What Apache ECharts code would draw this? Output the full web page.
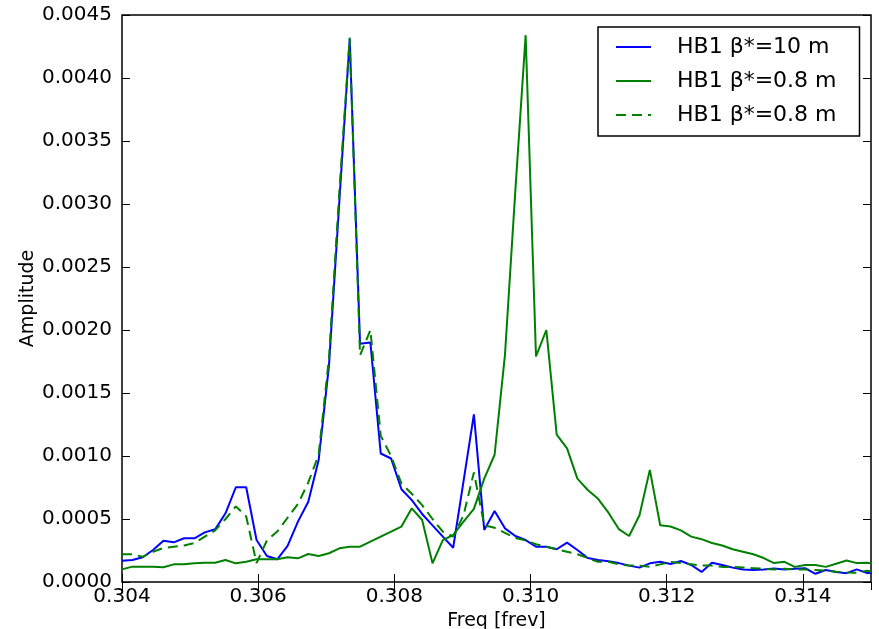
<!DOCTYPE html>
<html>
<head>
<meta charset="utf-8">
<script src="https://cdn.jsdelivr.net/npm/echarts@6/dist/echarts.min.js"></script>
<style>
html,body{margin:0;padding:0;background:#fff;}
#chart{width:879px;height:629px;}
</style>
</head>
<body>
<div id="chart"></div>
<script>
// Frequency grid [frev]
var freq = [0.304000,0.304152,0.304304,0.304456,0.304608,0.304760,0.304912,0.305064,0.305216,0.305368,
  0.305520,0.305672,0.305824,0.305976,0.306128,0.306280,0.306432,0.306584,0.306736,0.306888,
  0.307040,0.307192,0.307344,0.307496,0.307648,0.307800,0.307952,0.308104,0.308256,0.308408,
  0.308560,0.308712,0.308864,0.309016,0.309168,0.309320,0.309472,0.309624,0.309776,0.309928,
  0.310080,0.310232,0.310384,0.310536,0.310688,0.310840,0.310992,0.311144,0.311296,0.311448,
  0.311600,0.311752,0.311904,0.312056,0.312208,0.312360,0.312512,0.312664,0.312816,0.312968,
  0.313120,0.313272,0.313424,0.313576,0.313728,0.313880,0.314032,0.314184,0.314336,0.314488,
  0.314640,0.314792,0.314944,0.315096];

// HB1 beta*=10 m (blue)
var ampBeta10 = [0.000169,0.000175,0.000196,0.000254,0.000328,0.000315,0.000347,0.000347,0.000394,0.000418,
  0.000545,0.000752,0.000752,0.000333,0.000206,0.000180,0.000286,0.000479,0.000637,0.000968,
  0.00172,0.00302,0.00431,0.00189,0.00190,0.00102,0.00098,0.000736,0.000650,0.000540,
  0.000450,0.000360,0.000272,0.000800,0.00133,0.000413,0.000563,0.000426,0.000365,0.000333,
  0.000280,0.000280,0.000260,0.000312,0.000254,0.000190,0.000175,0.000165,0.000150,0.000130,
  0.000114,0.000148,0.000161,0.000143,0.000167,0.000135,0.000080,0.000153,0.000135,0.000114,
  0.000100,0.000095,0.000100,0.000108,0.000100,0.000105,0.000110,0.000065,0.000095,0.000080,
  0.000070,0.000100,0.000070,0.000080];

// HB1 beta*=0.8 m (green solid)
var ampBeta08 = [0.000100,0.000122,0.000122,0.000122,0.000117,0.000140,0.000140,0.000148,0.000153,0.000153,
  0.000175,0.000148,0.000161,0.000180,0.000180,0.000180,0.000196,0.000188,0.000222,0.000206,
  0.000228,0.000267,0.000280,0.000280,0.000320,0.000360,0.000400,0.000440,0.000585,0.000492,
  0.000148,0.000333,0.000373,0.000479,0.000580,0.000820,0.00101,0.00180,0.00310,0.00434,
  0.00179,0.00200,0.00117,0.00106,0.00082,0.00073,0.00066,0.00055,0.00042,0.000365,
  0.00053,0.00089,0.00045,0.00044,0.00041,0.00036,0.00034,0.00031,0.00029,0.00026,
  0.00024,0.00022,0.00019,0.00015,0.00016,0.00012,0.000135,0.000135,0.00012,0.000145,
  0.00017,0.00015,0.000153,0.00014];

// HB1 beta*=0.8 m (green dashed)
var ampBeta08Dashed = [0.00022,0.00022,0.00020,0.00024,0.00027,0.00028,0.00029,0.00031,0.00036,0.00041,
  0.00050,0.00060,0.00052,0.00015,0.00033,0.00040,0.00051,0.00062,0.00079,0.00101,
  0.00178,0.00310,0.00432,0.00180,0.00200,0.00116,0.00100,0.00078,0.00070,0.00061,
  0.00050,0.00040,0.00036,0.00053,0.00087,0.00045,0.00043,0.00039,0.00035,0.00033,
  0.00030,0.00028,0.00026,0.00024,0.00022,0.00019,0.00016,0.00016,0.00014,0.00013,
  0.00013,0.00012,0.00014,0.00016,0.00015,0.00014,0.00013,0.00013,0.00012,0.00012,
  0.000115,0.00011,0.000105,0.00010,0.000105,0.00010,0.00010,0.000095,0.00009,0.000082,
  0.000075,0.000074,0.00009,0.00007];

var seriesNames = ['HB1 \u03b2*=10 m', 'HB1 \u03b2*=0.8 m', 'HB1 \u03b2*=0.8 m '];

function pairs(ys){ return freq.map(function(f,i){ return [f, ys[i]]; }); }

var FONT = 'DejaVu Sans';
var chart = echarts.init(document.getElementById('chart'), null, {renderer:'canvas'});

var xCommon = {type:'value', min:0.304, max:0.315, interval:0.002};
var yCommon = {type:'value', min:0, max:0.0045, interval:0.0005};

chart.setOption({
  animation:false,
  backgroundColor:'#fff',
  grid:{left:122, right:8, top:15, bottom:47, containLabel:false, outerBoundsMode:'none',
    show:true, borderColor:'#000', borderWidth:1.5, backgroundColor:'transparent'},
  legend:{
    orient:'vertical', left:598, top:27,
    data:seriesNames,
    itemWidth:35, itemHeight:14, itemGap:12,
    padding:[9,16,10,17],
    borderColor:'#000', borderWidth:1.5, backgroundColor:'#fff',
    itemStyle:{color:'rgba(0,0,0,0)', borderWidth:0, opacity:0},
    textStyle:{fontFamily:FONT, fontSize:22, color:'#000', padding:[0,0,0,21]},
    selectedMode:false
  },
  xAxis:[
    Object.assign({}, xCommon, {
      position:'bottom',
      name:'Freq [frev]', nameLocation:'middle', nameGap:30, nameMoveOverlap:false,
      nameTextStyle:{fontFamily:FONT, fontSize:19, color:'#000'},
      axisLine:{show:false},
      axisTick:{show:true, inside:true, length:8, lineStyle:{color:'#000', width:1}},
      axisLabel:{fontFamily:FONT, fontSize:20, color:'#000', margin:5, showMaxLabel:false,
        formatter:function(v){ return v.toFixed(3); }},
      splitLine:{show:false}
    }),
    Object.assign({}, xCommon, {
      position:'top',
      axisLine:{show:false},
      axisTick:{show:true, inside:true, length:8, lineStyle:{color:'#000', width:1}},
      axisLabel:{show:false},
      splitLine:{show:false}
    })
  ],
  yAxis:[
    Object.assign({}, yCommon, {
      position:'left',
      name:'Amplitude', nameLocation:'middle', nameGap:84, nameRotate:90, nameMoveOverlap:false,
      nameTextStyle:{fontFamily:FONT, fontSize:19, color:'#000'},
      axisLine:{show:false},
      axisTick:{show:true, inside:true, length:8, lineStyle:{color:'#000', width:1}},
      axisLabel:{fontFamily:FONT, fontSize:20, color:'#000', margin:10,
        formatter:function(v){ return v.toFixed(4); }},
      splitLine:{show:false}
    }),
    Object.assign({}, yCommon, {
      position:'right',
      axisLine:{show:false},
      axisTick:{show:true, inside:true, length:8, lineStyle:{color:'#000', width:1}},
      axisLabel:{show:false},
      splitLine:{show:false}
    })
  ],
  series:[
    {name:seriesNames[0], type:'line', data:pairs(ampBeta10), symbol:'none', showSymbol:false,
     lineStyle:{color:'#0000ff', width:2}, itemStyle:{color:'#0000ff'}, clip:true},
    {name:seriesNames[1], type:'line', data:pairs(ampBeta08), symbol:'none', showSymbol:false,
     lineStyle:{color:'#008000', width:2}, itemStyle:{color:'#008000'}, clip:true},
    {name:seriesNames[2], type:'line', data:pairs(ampBeta08Dashed), symbol:'none', showSymbol:false,
     lineStyle:{color:'#008000', width:2, type:[10,6]}, itemStyle:{color:'#008000'}, clip:true}
  ]
});
</script>
</body>
</html>
